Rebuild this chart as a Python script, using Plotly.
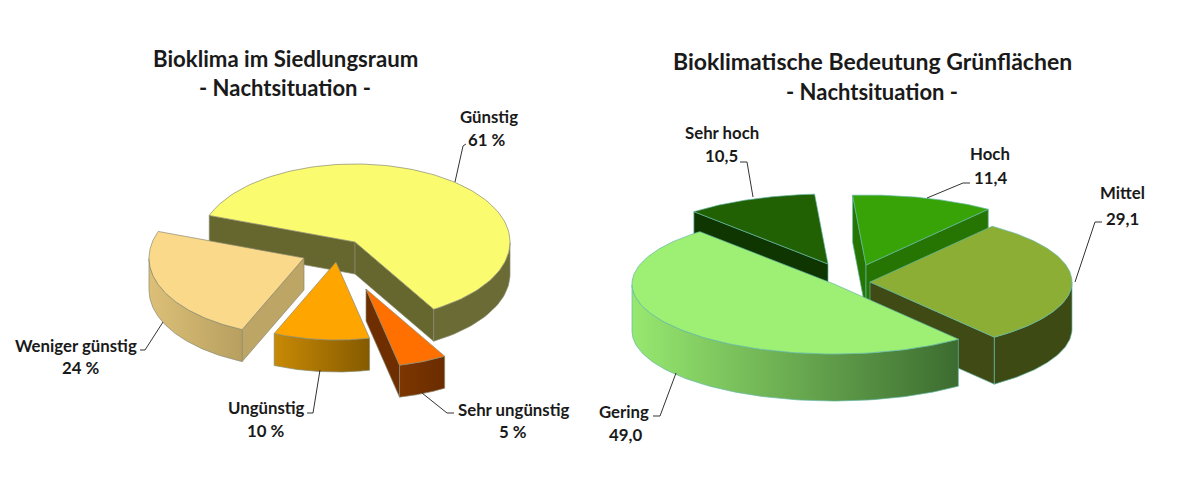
import numpy as np
import plotly.graph_objects as go

# --- data
left_names = ["Günstig", "Sehr ungünstig", "Ungünstig", "Weniger günstig"]
left_values = [61, 5, 10, 24]
left_texts = ["61 %", "5 %", "10 %", "24 %"]
right_names = ["Gering", "Sehr hoch", "Hoch", "Mittel"]
right_values = [49.0, 10.5, 11.4, 29.1]
right_texts = ["49,0", "10,5", "11,4", "29,1"]

left_title = ["Bioklima im Siedlungsraum", "- Nachtsituation -"]
right_title = ["Bioklimatische Bedeutung Grünflächen", "- Nachtsituation -"]

# --- styling: top colour, wall gradient (left, right), cut-face colour
left_colors = {
    "Günstig": ("#fbfb70", "#6b6b35", "#6b6b35", "#66662f"),
    "Sehr ungünstig": ("#ff7000", "#7d3600", "#6a2c00", "#6e2e00"),
    "Ungünstig": ("#ffa500", "#c88a06", "#855a00", "#9a6a00"),
    "Weniger günstig": ("#fbd98a", "#dcc078", "#b89f60", "#bda565"),
}
right_colors = {
    "Gering": ("#9df074", "#97e870", "#3c6c30", "#3c6c30"),
    "Sehr hoch": ("#226004", "#0f3500", "#0f3500", "#0f3500"),
    "Hoch": ("#37a307", "#2a7d05", "#2a7d05", "#267503"),
    "Mittel": ("#8cae35", "#3d4a14", "#3d4a14", "#3f4a15"),
}

# --- layout geometry of the tilted pies (pixels of the figure)
left_geo = dict(rx=155, ry=78, depth=32, first=-70.1, order=[0, 3, 2, 1], edge="#8a8a70",
                centers={"Günstig": (355, 242), "Sehr ungünstig": (366, 289),
                         "Ungünstig": (336, 262), "Weniger günstig": (304, 258)})
right_geo = dict(rx=202, ry=70, depth=47, first=-41.6, order=[1, 2, 3, 0], edge="#63b8a4",
                 centers={"Gering": (834, 284), "Sehr hoch": (828, 264),
                          "Hoch": (866, 265), "Mittel": (870, 282)})

fig = go.Figure()


def poly(x, y, c0, c1, edge, name):
    kw = dict(x=x, y=y, mode="lines", fill="toself", name=name, showlegend=False,
              hoverinfo="name", line=dict(color=edge, width=0.7))
    if c0 == c1:
        kw["fillcolor"] = c0
    else:
        kw["fillgradient"] = dict(type="horizontal", colorscale=[[0, c0], [1, c1]])
    fig.add_trace(go.Scatter(**kw))


def draw_pie(names, values, colors, geo):
    total = sum(values)
    # The first slice listed runs clockwise after the remaining slices
    spans = {}
    start = geo["first"]
    seq = [1, 2, 3, 0] if names[0] == "Gering" else [0, 1, 2, 3]
    for i in seq:
        end = start + 360 * values[i] / total
        spans[i] = (start, end)
        start = end
    rx, ry, d = geo["rx"], geo["ry"], geo["depth"]
    for i in geo["order"]:
        a, b = spans[i]
        cx, cy = geo["centers"][names[i]]
        top, w0, w1, cut = colors[names[i]]
        th = np.radians(np.linspace(a, b, 120))
        ex = cx + rx * np.sin(th)
        ey = cy - ry * np.cos(th)
        # cut faces
        for ang in (a, b):
            r = np.radians(ang)
            visible = np.sin(r) < 0 if ang == a else np.sin(r) > 0
            if visible:
                ox, oy = cx + rx * np.sin(r), cy - ry * np.cos(r)
                poly([cx, ox, ox, cx, cx], [cy, oy, oy + d, cy + d, cy], cut, cut, geo["edge"], names[i])
        # outer wall
        mask = np.cos(th) <= 0
        if mask.any():
            wx, wy = ex[mask], ey[mask]
            poly(np.r_[wx, wx[::-1], wx[0]], np.r_[wy, wy[::-1] + d, wy[0]], w0, w1, geo["edge"], names[i])
        # top
        poly(np.r_[cx, ex, cx], np.r_[cy, ey, cy], top, top, geo["edge"], names[i])


draw_pie(left_names, left_values, left_colors, left_geo)
draw_pie(right_names, right_values, right_colors, right_geo)

# --- leader lines
leaders = [
    [(466, 144), (463, 146), (455, 182)],
    [(140, 350), (145, 350), (163, 322)],
    [(307, 413), (313, 413), (320, 370)],
    [(454, 413), (447, 413), (422, 393)],
    [(740, 162), (747, 162), (753, 197)],
    [(970, 183), (963, 183), (927, 198)],
    [(1102, 222), (1095, 222), (1075, 282)],
    [(653, 416), (660, 416), (676, 373)],
]
for pts in leaders:
    fig.add_trace(go.Scatter(x=[p[0] for p in pts], y=[p[1] for p in pts], mode="lines",
                             line=dict(color="#333333", width=1), showlegend=False, hoverinfo="skip"))

# --- text
FONT = "Lato"


def text(x, y, s, size, bold=True):
    fig.add_annotation(x=x, y=y, xref="x", yref="y", text=f"<b>{s}</b>" if bold else s, showarrow=False,
                       font=dict(family=FONT, size=size, color="#1a1a1a"), xanchor="center", yanchor="middle")


text(285, 58, left_title[0], 22.2)
text(285, 87, left_title[1], 22)
text(872, 61, right_title[0], 23)
text(872, 91, right_title[1], 22)

label_pos = {
    "Günstig": ((489, 116), (487, 139)),
    "Weniger günstig": ((76, 345), (81, 367)),
    "Ungünstig": ((266, 407), (266, 430)),
    "Sehr ungünstig": ((513, 409), (513, 431)),
    "Sehr hoch": ((722, 132), (721, 155)),
    "Hoch": ((990, 153), (990, 177)),
    "Mittel": ((1122, 192), (1122, 218)),
    "Gering": ((624, 411), (625, 434)),
}
for names, texts in ((left_names, left_texts), (right_names, right_texts)):
    for n, t in zip(names, texts):
        p, q = label_pos[n]
        text(p[0], p[1], n, 16.8)
        text(q[0], q[1], t, 16.8)

fig.update_layout(
    width=1185, height=479, margin=dict(l=0, r=0, t=0, b=0), autosize=False,
    paper_bgcolor="white", plot_bgcolor="white", showlegend=False,
    xaxis=dict(range=[0, 1185], visible=False, fixedrange=True),
    yaxis=dict(range=[479, 0], visible=False, fixedrange=True),
)
fig.write_html("out.html", post_script="document.body.style.margin='0';",
               config={"displayModeBar": False})
